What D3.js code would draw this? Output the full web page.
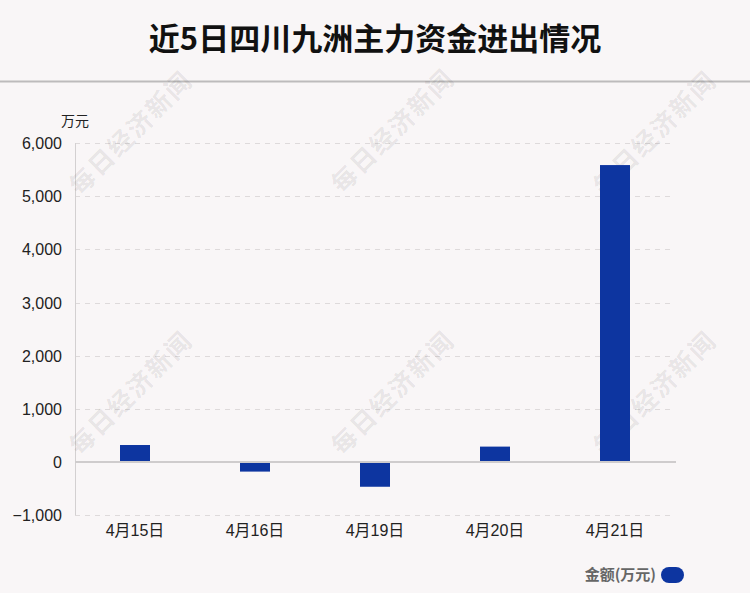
<!DOCTYPE html>
<html>
<head>
<meta charset="utf-8">
<script src="https://cdn.jsdelivr.net/npm/d3@7"></script>
<style>
  html, body { margin: 0; padding: 0; background: #f9f6f7; }
  svg { display: block; }
</style>
</head>
<body>
<script>
const titleText = "近5日四川九洲主力资金进出情况";
const categories = ["4月15日", "4月16日", "4月19日", "4月20日", "4月21日"];
const values = [320, -180, -465, 290, 5585];
const yTicks = [-1000, 0, 1000, 2000, 3000, 4000, 5000, 6000];
const unitLabel = "万元";
const legendLabel = "金额(万元)";
const watermarkText = "每日经济新闻";

const W = 750, H = 593;
const font = "'Liberation Sans', Arial, 'Noto Sans CJK SC', sans-serif";
const cjkFont = "'Noto Sans CJK SC', 'Liberation Sans', sans-serif";
const barColor = "#0d35a0";

const svg = d3.select("body").append("svg").attr("width", W).attr("height", H);
svg.append("rect").attr("width", W).attr("height", H).attr("fill", "#f9f6f7");

// Title
svg.append("text").attr("x", W / 2).attr("y", 50).attr("text-anchor", "middle")
  .attr("font-family", cjkFont).attr("font-weight", "bold").attr("font-size", 31)
  .attr("fill", "#111").text(titleText);
svg.append("line").attr("x1", 0).attr("x2", W).attr("y1", 81.5).attr("y2", 81.5)
  .attr("stroke", "#bdbbbc").attr("stroke-width", 2);

const plotL = 75, plotR = 675;
const y = d3.scaleLinear().domain([-1000, 6000]).range([515.2, 143]);
const x = d3.scaleBand().domain(categories).range([plotL, plotR]).paddingInner(0.75).paddingOuter(0.375);

// Grid
const g = svg.append("g");
g.selectAll("line.grid").data(yTicks.filter(d => d !== 0)).join("line")
  .attr("x1", plotL).attr("x2", 672)
  .attr("y1", d => Math.round(y(d)) + 0.5).attr("y2", d => Math.round(y(d)) + 0.5)
  .attr("stroke", "#dedadb").attr("stroke-dasharray", "5,5").attr("stroke-width", 1);

// Y axis line
g.append("line").attr("x1", plotL + 0.5).attr("x2", plotL + 0.5)
  .attr("y1", y(6000)).attr("y2", y(-1000)).attr("stroke", "#d3d0d1").attr("stroke-width", 1);

// Y tick labels
const yAxis = d3.axisLeft(y).tickValues(yTicks).tickSize(0).tickPadding(13)
  .tickFormat(d3.format(","));
const ya = svg.append("g").attr("transform", `translate(${plotL},0)`).call(yAxis);
ya.attr("font-family", null).attr("font-size", null);
ya.select(".domain").remove();
ya.selectAll("text").style("font-family", font).style("font-size", "16px").attr("fill", "#222")
  .attr("dy", "0.35em");

// Unit label
svg.append("text").attr("x", 61).attr("y", 126).attr("font-family", cjkFont)
  .attr("font-size", 14).attr("fill", "#222").text(unitLabel);

// Watermarks
const wmCenters = [[131, 133], [393, 131], [655, 133], [131, 393], [393, 393], [655, 393]];
svg.append("g").selectAll("text").data(wmCenters).join("text")
  .attr("transform", d => `translate(${d[0]},${d[1]}) rotate(-45)`)
  .attr("text-anchor", "middle").attr("dy", "0.35em")
  .attr("font-family", cjkFont).attr("font-weight", "bold").attr("font-size", 25)
  .attr("letter-spacing", 2)
  .attr("fill", "#000").attr("fill-opacity", 0.085).text(watermarkText);

// Bars
svg.append("g").selectAll("rect").data(values).join("rect")
  .attr("x", (d, i) => x(categories[i]))
  .attr("width", x.bandwidth())
  .attr("y", d => y(Math.max(0, d)))
  .attr("height", d => Math.abs(y(d) - y(0)))
  .attr("fill", barColor);

// Zero line
svg.append("line").attr("x1", plotL).attr("x2", 676)
  .attr("y1", y(0)).attr("y2", y(0)).attr("stroke", "#cfcccd").attr("stroke-width", 2);

// X labels
const xAxis = d3.axisBottom(x).tickSize(0).tickPadding(0);
const xa = svg.append("g").attr("transform", `translate(0,${y(-1000)})`).call(xAxis);
xa.attr("font-family", null).attr("font-size", null);
xa.select(".domain").remove();
xa.selectAll("text").style("font-family", font).style("font-size", "16px").attr("fill", "#222")
  .attr("dy", 0).attr("y", 21);

// Legend
svg.append("text").attr("x", 656).attr("y", 580).attr("text-anchor", "end")
  .attr("font-family", cjkFont).attr("font-weight", "bold").attr("font-size", 15)
  .attr("fill", "#666").text(legendLabel);
svg.append("rect").attr("x", 661).attr("y", 567).attr("width", 23).attr("height", 16)
  .attr("rx", 8).attr("ry", 8).attr("fill", barColor);
</script>
</body>
</html>
